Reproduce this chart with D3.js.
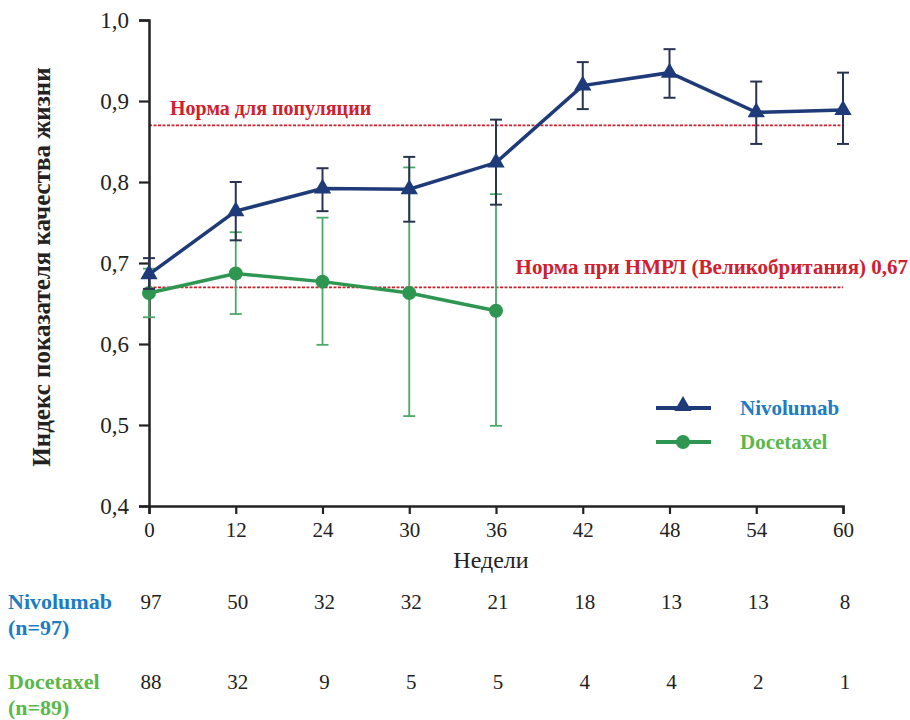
<!DOCTYPE html>
<html>
<head>
<meta charset="utf-8">
<script src="https://cdn.jsdelivr.net/npm/d3@7"></script>
<style>
  body { margin: 0; background: #fff; }
</style>
</head>
<body>
<div id="chart"></div>
<script>
const weeks = ["0", "12", "24", "30", "36", "42", "48", "54", "60"];
const yTicks = [0.4, 0.5, 0.6, 0.7, 0.8, 0.9, 1.0];

const nivoMean = [0.686, 0.764, 0.792, 0.791, 0.824, 0.919, 0.935, 0.886, 0.889];
const nivoLow  = [0.668, 0.728, 0.764, 0.751, 0.772, 0.890, 0.904, 0.847, 0.847];
const nivoHigh = [0.706, 0.800, 0.817, 0.831, 0.877, 0.948, 0.964, 0.924, 0.935];

const doceMean = [0.663, 0.687, 0.677, 0.663, 0.641];
const doceLow  = [0.633, 0.637, 0.599, 0.511, 0.499];
const doceHigh = [0.693, 0.738, 0.756, 0.818, 0.785];

const nivoN = [97, 50, 32, 32, 21, 18, 13, 13, 8];
const doceN = [88, 32, 9, 5, 5, 4, 4, 2, 1];

const normPop = 0.87;
const normNsclc = 0.67;

const serif = "'Liberation Serif', 'DejaVu Serif', serif";
const width = 910, height = 720;
const svg = d3.select("#chart").append("svg")
    .attr("width", width)
    .attr("height", height)
    .attr("font-family", serif);

const x = d3.scalePoint().domain(weeks).range([149, 843]);
const y = d3.scaleLinear().domain([0.4, 1.0]).range([506, 20]);

const navy = "#1f3a78", green = "#2e9650", greenBar = "#4aa868", red = "#d0202e";
const fmt = d => d3.format(".1f")(d).replace(".", ",");

// reference lines
[[normPop, "Норма для популяции", 170, "start", -10, 20],
 [normNsclc, "Норма при НМРЛ (Великобритания) 0,67", 908, "end", -13, 21]].forEach(([v, label, tx, anchor, dy, fs]) => {
    svg.append("line")
        .attr("x1", x("0")).attr("x2", x("60"))
        .attr("y1", y(v)).attr("y2", y(v))
        .attr("stroke", red).attr("stroke-width", 1.8)
        .attr("stroke-dasharray", "3,1.5");
    svg.append("text")
        .attr("x", tx).attr("y", y(v) + dy)
        .attr("text-anchor", anchor)
        .attr("fill", red).attr("font-weight", "bold")
        .attr("font-size", fs)
        .text(label);
});

// axes
const yAxis = svg.append("g")
    .attr("transform", `translate(${x("0")},0)`)
    .call(d3.axisLeft(y).tickValues(yTicks).tickFormat(fmt).tickSize(10).tickPadding(10));
const xAxis = svg.append("g")
    .attr("transform", `translate(0,${y(0.4)})`)
    .call(d3.axisBottom(x).tickSize(8).tickPadding(8));
[yAxis, xAxis].forEach(g => {
    g.attr("font-family", serif);
    g.select(".domain").attr("stroke", "#222").attr("stroke-width", 2.5);
    g.selectAll(".tick line").attr("stroke", "#222").attr("stroke-width", 2.2);
    g.selectAll(".tick text").attr("font-size", 23).attr("fill", "#222");
});
xAxis.selectAll(".tick text").attr("font-size", 21);

svg.append("text")
    .attr("x", 491).attr("y", 568)
    .attr("text-anchor", "middle")
    .attr("font-size", 24).attr("fill", "#222")
    .text("Недели");

svg.append("text")
    .attr("transform", "translate(50,267) rotate(-90)")
    .attr("text-anchor", "middle")
    .attr("font-size", 25).attr("font-weight", "bold").attr("fill", "#222")
    .text("Индекс показателя качества жизни");

// error bars
function errorBars(mean, low, high, color, sw) {
    const g = svg.append("g").attr("stroke", color).attr("stroke-width", sw);
    mean.forEach((m, i) => {
        const cx = x(weeks[i]);
        g.append("line").attr("x1", cx).attr("x2", cx).attr("y1", y(low[i])).attr("y2", y(high[i]));
        [low[i], high[i]].forEach(v => {
            g.append("line").attr("x1", cx - 6).attr("x2", cx + 6).attr("y1", y(v)).attr("y2", y(v));
        });
    });
}

const line = d3.line().x((d, i) => x(weeks[i])).y(d => y(d));

// Docetaxel
errorBars(doceMean, doceLow, doceHigh, greenBar, 1.8);
svg.append("path").datum(doceMean)
    .attr("d", line).attr("fill", "none")
    .attr("stroke", green).attr("stroke-width", 3.5);
svg.selectAll(".doce").data(doceMean).enter().append("circle")
    .attr("cx", (d, i) => x(weeks[i])).attr("cy", d => y(d))
    .attr("r", 7).attr("fill", green);

// Nivolumab
errorBars(nivoMean, nivoLow, nivoHigh, "#2a3350", 2);
svg.append("path").datum(nivoMean)
    .attr("d", line).attr("fill", "none")
    .attr("stroke", navy).attr("stroke-width", 3.5);
const tri = d3.symbol().type(d3.symbolTriangle).size(130);
svg.selectAll(".nivo").data(nivoMean).enter().append("path")
    .attr("d", tri)
    .attr("transform", (d, i) => `translate(${x(weeks[i])},${y(d)})`)
    .attr("fill", navy);

// legend
const legend = [
    { name: "Nivolumab", color: navy, text: "#1b7cc4", marker: "tri", yy: 408 },
    { name: "Docetaxel", color: green, text: "#5ab84a", marker: "circle", yy: 442 }
];
legend.forEach(l => {
    svg.append("line").attr("x1", 656).attr("x2", 711).attr("y1", l.yy).attr("y2", l.yy)
        .attr("stroke", l.color).attr("stroke-width", 4);
    if (l.marker === "tri") {
        svg.append("path").attr("d", tri).attr("transform", `translate(683,${l.yy - 2})`).attr("fill", l.color);
    } else {
        svg.append("circle").attr("cx", 683).attr("cy", l.yy).attr("r", 7).attr("fill", l.color);
    }
    svg.append("text").attr("x", 740).attr("y", l.yy + 7)
        .attr("font-size", 21).attr("font-weight", "bold").attr("fill", l.text)
        .text(l.name);
});

// numbers at risk
[["Nivolumab", "(n=97)", "#1b7cc4", nivoN, 609],
 ["Docetaxel", "(n=89)", "#5ab84a", doceN, 689]].forEach(([name, n, col, counts, yy]) => {
    svg.append("text").attr("x", 8).attr("y", yy)
        .attr("font-size", 22).attr("font-weight", "bold").attr("fill", col).text(name);
    svg.append("text").attr("x", 8).attr("y", yy + 26)
        .attr("font-size", 22).attr("font-weight", "bold").attr("fill", col).text(n);
    svg.selectAll(null).data(counts).enter().append("text")
        .attr("x", (d, i) => x(weeks[i]) + 2).attr("y", yy)
        .attr("text-anchor", "middle")
        .attr("font-size", 21).attr("fill", "#222")
        .text(d => d);
});
</script>
</body>
</html>
